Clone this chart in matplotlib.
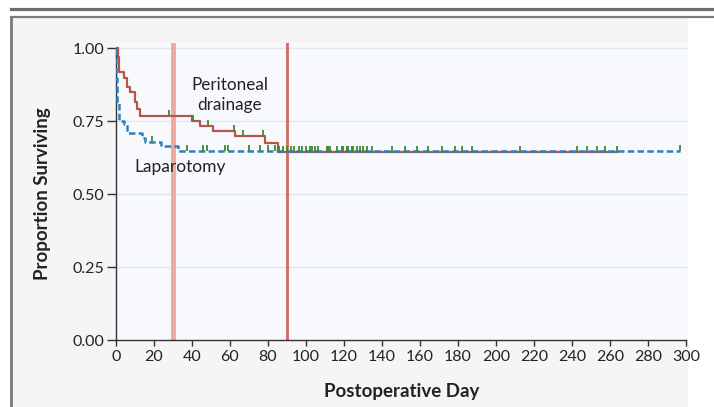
import matplotlib.pyplot as plt
from matplotlib.patches import Rectangle
from matplotlib.lines import Line2D
import numpy as np

# Kaplan-Meier steps
drain_days = [0, 1.2, 1.9, 4.2, 6, 7.7, 10, 11.2, 13, 40, 44.4, 51.3, 62.8, 78.5, 85.4, 263.5]
drain_surv = [1.0, 0.969, 0.918, 0.90, 0.866, 0.849, 0.815, 0.792, 0.769, 0.750, 0.733, 0.718,
              0.700, 0.674, 0.646, 0.646]
lap_days = [0, 0.3, 0.8, 1.5, 4.2, 6, 13.6, 15.5, 24, 33, 296.8]
lap_surv = [1.0, 0.90, 0.82, 0.752, 0.74, 0.710, 0.692, 0.678, 0.664, 0.648, 0.648]

# censoring marks
drain_censor = [27.9, 40.5, 48.7, 62, 67, 77.6, 86, 88, 90, 92, 94, 96.5, 98, 100, 102, 103.1,
                104.8, 106.6, 110.9, 111.8, 112.7, 116.2, 118.9, 119.7, 121.5, 122.3, 124.1, 125,
                126.8, 128.5, 130.3, 132, 134.6, 145.2, 152, 158.3, 164.4, 171.5, 178.5, 182,
                187.3, 212.7, 242.5, 247.8, 253, 257.4, 263.5]
lap_censor = [19, 37.5, 46, 48, 57.5, 59, 70, 76, 80, 84, 296.8]

x_ticks = list(range(0, 301, 20))
y_ticks = [0.0, 0.25, 0.5, 0.75, 1.0]
y_tick_labels = ['0.00', '0.25', '0.50', '0.75', '1.00']
ref_days = [30, 90]


def step_value(days, surv, t):
    i = np.searchsorted(days, t, side='right') - 1
    return np.array(surv)[i]


plt.rcParams['font.family'] = ['Lato', 'DejaVu Sans']

fig = plt.figure(figsize=(7.14, 4.07), dpi=100, facecolor='white')

# panel background and frame
W, H = 714, 407
fig.patches.append(Rectangle((11 / W, 0), (688 - 11) / W, (H - 17) / H, transform=fig.transFigure,
                             facecolor='#f5f5f6', edgecolor='none', zorder=-10))
fig.lines.append(Line2D([10.5 / W, 1], [1 - 8.5 / H, 1 - 8.5 / H], transform=fig.transFigure,
                        color='#6e6e6e', lw=2.3))
fig.lines.append(Line2D([10.5 / W, 1], [1 - 16.5 / H, 1 - 16.5 / H], transform=fig.transFigure,
                        color='#7a7a7a', lw=1.6))
fig.lines.append(Line2D([10.5 / W, 10.5 / W], [0, 1 - 16.5 / H], transform=fig.transFigure,
                        color='#7a7a7a', lw=2.0))

ax = fig.add_axes([115.7 / W, 67 / H, (688 - 115.7) / W, (340 - 42.5) / H])
ax.set_zorder(5)
ax.set_facecolor('#f8f9fc')
ax.set_xlim(0, 301)
ax.set_ylim(0, 1.02)

for y in y_ticks[1:]:
    ax.axhline(y, xmin=0, xmax=300 / 301, color='#dce7f3', lw=1.0, zorder=1)

ax.axvline(ref_days[0], color='#eca99f', lw=3.5, zorder=2)
ax.axvline(ref_days[1], color='#d4685d', lw=2, zorder=2)

ax.step(drain_days, drain_surv, where='post', color='#b5564b', lw=1.6, zorder=4)
ax.step(lap_days, lap_surv, where='post', color='#2f7fc0', lw=1.8, ls=(0, (2.6, 1.3)), zorder=5)

dc = step_value(drain_days, drain_surv, drain_censor)
lc = step_value(lap_days, lap_surv, lap_censor)
ax.vlines(drain_censor, dc, dc + 0.02, color='#3f8a2a', lw=1.3, zorder=6)
ax.vlines(lap_censor, lc, lc + 0.02, color='#3f8a2a', lw=1.3, zorder=6)

ax.text(60, 0.840, 'Peritoneal\ndrainage', ha='center', va='center', fontsize=12.3,
        color='#222222', linespacing=1.35)
ax.text(34, 0.594, 'Laparotomy', ha='center', va='center', fontsize=12.5, color='#222222')

ax.set_xticks(x_ticks)
ax.set_yticks(y_ticks)
ax.set_yticklabels(y_tick_labels)
ax.tick_params(axis='y', direction='out', length=6.5, width=1, pad=1.5, labelsize=11.5,
               colors='#333333', labelcolor='#222222')
ax.tick_params(axis='x', direction='out', length=4.5, width=1, pad=3, labelsize=11.5,
               colors='#333333', labelcolor='#222222')

for s in ['top', 'right']:
    ax.spines[s].set_visible(False)
ax.spines['left'].set_bounds(0, 1)
ax.spines['bottom'].set_bounds(0, 300)
for s in ['left', 'bottom']:
    ax.spines[s].set_color('#333333')
    ax.spines[s].set_linewidth(1.0)

fig.text(402 / W, 1 - 392 / H, 'Postoperative Day', ha='center', va='center', fontsize=13.5,
         fontweight='bold', color='#222222')
fig.text(43 / W, 1 - 194 / H, 'Proportion Surviving', ha='center', va='center', fontsize=13.5,
         fontweight='bold', color='#222222', rotation=90)

fig.savefig('out.png', dpi=100, facecolor=fig.get_facecolor())
